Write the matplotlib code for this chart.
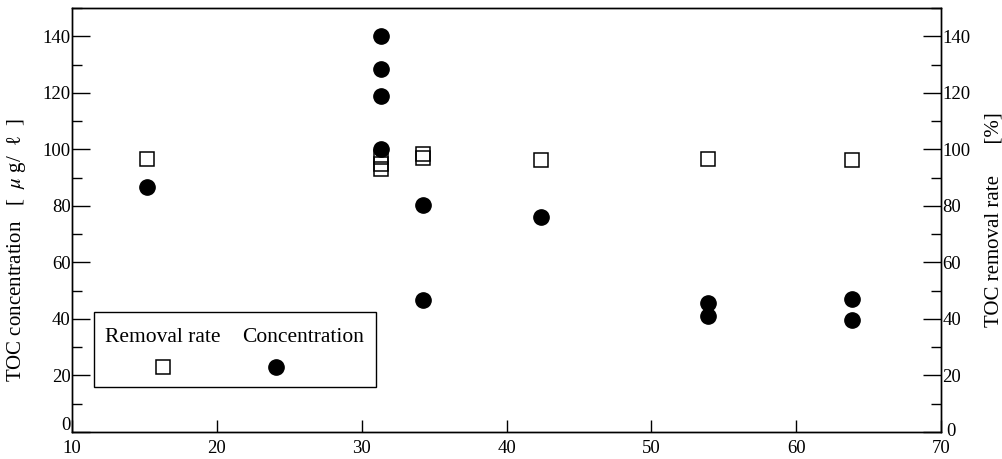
#!/usr/bin/env python3
# coding: utf-8

import matplotlib
matplotlib.use('Agg')
import matplotlib.pyplot as plt
from matplotlib.patches import Rectangle
from matplotlib.ticker import MultipleLocator
from matplotlib.transforms import ScaledTranslation

plt.rcParams['font.family'] = ['Liberation Serif', 'DejaVu Serif']
plt.rcParams['mathtext.fontset'] = 'stix'

# removal rate [%] (right axis, open squares)
rate_x = [15.15, 31.3, 31.3, 31.3, 34.25, 34.25, 42.4, 53.9, 63.85]
rate_y = [96.7, 97.3, 94.7, 92.9, 98.3, 96.8, 96.1, 96.7, 96.1]

# TOC concentration [ug/l] (left axis, filled circles)
conc_x = [15.15, 31.3, 31.3, 31.3, 31.3, 34.25, 34.25, 42.4, 53.9, 53.9, 63.85, 63.85]
conc_y = [86.7, 140.0, 128.5, 118.7, 100.2, 80.2, 46.6, 76.1, 45.8, 41.1, 47.0, 39.6]

x_ticks = [10, 20, 30, 40, 50, 60, 70]
y_ticks = [0, 20, 40, 60, 80, 100, 120, 140]


def main():
    fig = plt.figure(figsize=(10.02, 4.59), dpi=100)
    ax = fig.add_axes([0.0719, 0.0588, 0.8672, 0.9238])
    ax2 = ax.twinx()

    for a in (ax, ax2):
        a.set_xlim(10, 70)
        a.set_ylim(0, 150)
        a.set_yticks(y_ticks)
        a.yaxis.set_minor_locator(MultipleLocator(10))
        for s in a.spines.values():
            s.set_linewidth(1.0)

    ax.set_xticks(x_ticks)
    ax.tick_params(axis='x', direction='in', length=9, width=1.0,
                   labelsize=13.5, pad=6, top=False)
    ax.tick_params(axis='y', which='major', direction='in', length=13,
                   width=1.0, labelsize=13.5, pad=1, right=False)
    ax.tick_params(axis='y', which='minor', direction='in', length=7,
                   width=1.0, right=False)
    ax2.tick_params(axis='y', which='major', direction='in', length=13,
                    width=1.0, labelsize=13.5, pad=1)
    ax2.tick_params(axis='y', which='minor', direction='in', length=7,
                    width=1.0)

    # lift the two "0" labels a little off the x tick labels
    fig.canvas.draw()
    lab = ax.get_yticklabels()[0]
    lab.set_transform(lab.get_transform() +
                      ScaledTranslation(0, 6 / 72, fig.dpi_scale_trans))
    lab2 = ax2.get_yticklabels()[0]
    lab2.set_transform(lab2.get_transform() +
                       ScaledTranslation(3 / 72, 2 / 72, fig.dpi_scale_trans))

    ax2.plot(rate_x, rate_y, linestyle='none', marker='s', markersize=9.5,
             markerfacecolor='none', markeredgecolor='black',
             markeredgewidth=1.1)
    ax.plot(conc_x, conc_y, linestyle='none', marker='o', markersize=11,
            color='black')
    ax.set_zorder(ax2.get_zorder() + 1)
    ax.patch.set_visible(False)

    ax.set_ylabel('TOC concentration   [  $\\mu$ g/  ℓ  ]', fontsize=15)
    ax.yaxis.set_label_coords(-0.051, 0.43)
    ax2.set_ylabel('TOC removal rate      [%]', fontsize=15, labelpad=10)

    # legend box
    ax.add_patch(Rectangle((0.0253, 0.106), 0.3245, 0.177,
                           transform=ax.transAxes, fill=False,
                           edgecolor='black', linewidth=1.0, zorder=5))
    ax.text(0.1047, 0.224, 'Removal rate', transform=ax.transAxes,
            ha='center', va='center', fontsize=15.5)
    ax.text(0.266, 0.224, 'Concentration', transform=ax.transAxes,
            ha='center', va='center', fontsize=15.5)
    ax.plot([0.1047], [0.153], transform=ax.transAxes, marker='s',
            markersize=9.5, markerfacecolor='none', markeredgecolor='black',
            markeredgewidth=1.1, linestyle='none', clip_on=False)
    ax.plot([0.235], [0.153], transform=ax.transAxes, marker='o',
            markersize=11, color='black', linestyle='none', clip_on=False)

    fig.savefig('out.png', dpi=100)


if __name__ == '__main__':
    main()
